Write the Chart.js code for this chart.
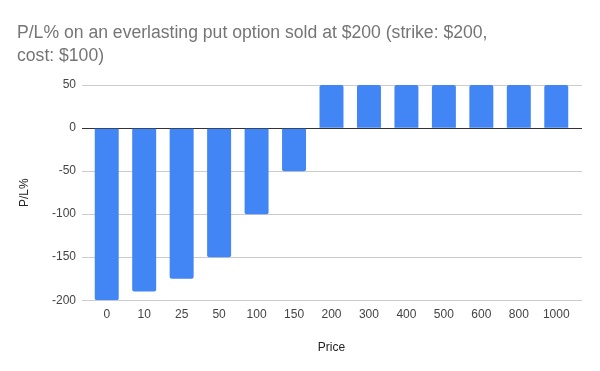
<!DOCTYPE html>
<html><head><meta charset="utf-8">
<script src="https://cdn.jsdelivr.net/npm/chart.js@4/dist/chart.umd.min.js"></script>
<style>html,body{margin:0;padding:0;background:#fff}#wrap{width:600px;height:371px}</style>
</head><body><div id="wrap"><canvas id="c"></canvas></div>
<script>
const titleLines = ["P/L% on an everlasting put option sold at $200 (strike: $200,", "cost: $100)"];
const categories = ["0","10","25","50","100","150","200","300","400","500","600","800","1000"];
const plValues = [-200,-190,-175,-150,-100,-50,50,50,50,50,50,50,50];
const yTicks = [-200,-150,-100,-50,0,50];
const xTitle = "Price";
const yTitle = "P/L%";

const FONT = "'Liberation Sans', Arial, sans-serif";
const gridColor = c => c.tick && c.tick.value === 0 ? '#333' : '#ccc';
new Chart(document.getElementById('c'), {
  type: 'bar',
  data: { labels: categories, datasets: [{ data: plValues, backgroundColor: '#4285f4', borderRadius: 2, categoryPercentage: 0.64, barPercentage: 1, yAxisID: 'y' }] },
  options: {
    responsive: true, maintainAspectRatio: false, animation: false,
    layout: { padding: { left: 17, right: 18, top: 10, bottom: 12 } },
    plugins: {
      legend: { display: false },
      tooltip: { enabled: false },
      title: { display: true, text: titleLines, align: 'start', color: '#757575',
        font: { family: FONT, size: 17.6, weight: 'normal', lineHeight: 1.31 }, padding: { top: 12, bottom: 17 } }
    },
    scales: {
      x: {
        grid: { display: false, drawTicks: false, tickLength: 0 }, border: { display: false },
        ticks: { color: '#444', font: { family: FONT, size: 12 }, padding: 7, maxRotation: 0 },
        title: { display: true, text: xTitle, color: '#222', font: { family: FONT, size: 12 }, padding: { top: 12 } }
      },
      y: {
        min: -200, max: 50,
        afterBuildTicks: s => { s.ticks = yTicks.map(v => ({ value: v })); },
        afterFit: s => { s.width = 71; },
        grid: { color: gridColor, tickColor: gridColor, lineWidth: 1, drawTicks: true, tickLength: 6 },
        border: { display: false },
        ticks: { color: '#444', font: { family: FONT, size: 12 }, padding: 6 },
        title: { display: true, text: yTitle, color: '#222', font: { family: FONT, size: 12 }, padding: 0 }
      },
      yRight: {
        position: 'right', min: -200, max: 50,
        afterBuildTicks: s => { s.ticks = yTicks.map(v => ({ value: v })); },
        afterFit: s => { s.width = 7; },
        grid: { color: gridColor, tickColor: gridColor, drawOnChartArea: false, drawTicks: true, tickLength: 7 },
        border: { display: false },
        ticks: { display: false }
      }
    }
  }
});
</script></body></html>
